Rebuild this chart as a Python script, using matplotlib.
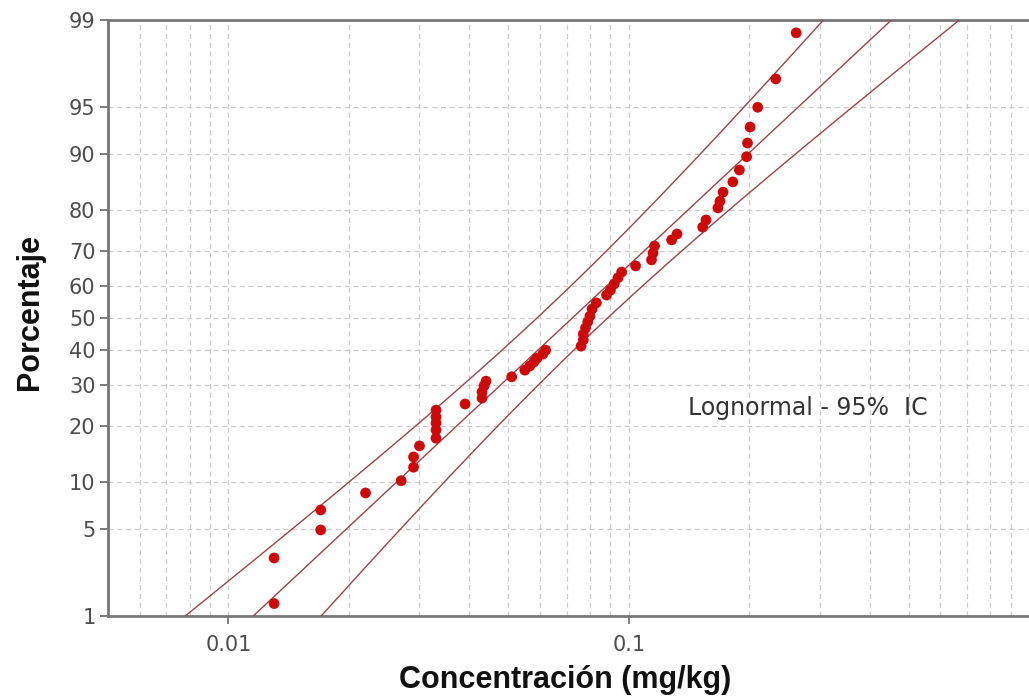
import numpy as np
import matplotlib
matplotlib.use("Agg")
import matplotlib.pyplot as plt
from matplotlib.ticker import FixedLocator, FixedFormatter, LogLocator, NullFormatter
from statistics import NormalDist

# Measured concentrations (mg/kg) and their plotting positions (%)
concentracion = [0.013, 0.013, 0.017, 0.017, 0.022, 0.027, 0.029, 0.029, 0.030, 0.033,
                 0.033, 0.033, 0.033, 0.033, 0.039, 0.043, 0.043, 0.0435, 0.044, 0.051,
                 0.055, 0.0566, 0.058, 0.059, 0.061, 0.062, 0.076, 0.077, 0.077, 0.078,
                 0.079, 0.080, 0.081, 0.083, 0.088, 0.090, 0.092, 0.094, 0.096, 0.104,
                 0.114, 0.115, 0.116, 0.128, 0.132, 0.153, 0.156, 0.167, 0.169, 0.172,
                 0.182, 0.189, 0.197, 0.198, 0.201, 0.210, 0.233, 0.262]
porcentaje = [1.29, 3.05, 4.90, 6.70, 8.60, 10.2, 12.2, 13.9, 15.9, 17.4,
              19.1, 20.6, 22.0, 23.6, 25.1, 26.6, 28.2, 29.8, 31.1, 32.3,
              34.2, 35.4, 36.6, 37.7, 38.9, 40.1, 41.3, 43.2, 45.0, 46.9,
              48.8, 50.6, 52.8, 54.7, 57.1, 58.6, 60.5, 62.3, 64.0, 65.8,
              67.5, 69.4, 71.3, 72.9, 74.4, 76.1, 77.8, 80.5, 81.9, 83.7,
              85.6, 87.6, 89.6, 91.4, 93.2, 95.0, 96.9, 98.7]

# Lognormal fit (log10 units) and 95% confidence settings
loc_log10 = -1.141
scale_log10 = 0.3427
n_muestras = 58
z_conf = 1.96

y_ticks = [1, 5, 10, 20, 30, 40, 50, 60, 70, 80, 90, 95, 99]
x_ticks = [0.01, 0.1]
x_tick_labels = ["0.01", "0.1"]

_nd = NormalDist()
_ppf = np.vectorize(lambda q: _nd.inv_cdf(q), otypes=[float])
_cdf = np.vectorize(lambda z: _nd.cdf(z), otypes=[float])


def prob_forward(p):
    p = np.clip(np.asarray(p, dtype=float) / 100.0, 1e-9, 1 - 1e-9)
    return _ppf(p)


def prob_inverse(z):
    return _cdf(np.asarray(z, dtype=float)) * 100.0


fig = plt.figure(figsize=(10.29, 7.0), dpi=100)
ax = fig.add_axes([108 / 1029, 1 - 616 / 700, 1 - 108 / 1029, 596 / 700])

ax.set_xscale("log")
ax.set_yscale("function", functions=(prob_forward, prob_inverse))
ax.set_xlim(0.005, 1.0)
ax.set_ylim(1, 99)

# Fitted percentile line with its confidence bounds
p_line = np.linspace(0.3, 99.7, 400)
z_line = prob_forward(p_line)
centro = loc_log10 + z_line * scale_log10
semi = z_conf * scale_log10 * np.sqrt(1.0 / n_muestras + z_line ** 2 / (2.0 * n_muestras))
line_color = "#9a4545"
ax.plot(10 ** centro, p_line, color=line_color, lw=1.0, zorder=3)
ax.plot(10 ** (centro - semi), p_line, color=line_color, lw=1.0, zorder=3)
ax.plot(10 ** (centro + semi), p_line, color=line_color, lw=1.0, zorder=3)

ax.scatter(concentracion, porcentaje, s=60, color="#cc0a0a", edgecolors="none", zorder=4)

# Ticks
ax.yaxis.set_major_locator(FixedLocator(y_ticks))
ax.yaxis.set_major_formatter(FixedFormatter([str(t) for t in y_ticks]))
ax.yaxis.set_minor_locator(FixedLocator([]))
ax.xaxis.set_major_locator(FixedLocator(x_ticks))
ax.xaxis.set_major_formatter(FixedFormatter(x_tick_labels))
ax.xaxis.set_minor_locator(LogLocator(base=10, subs=np.arange(2, 10)))
ax.xaxis.set_minor_formatter(NullFormatter())

ax.tick_params(axis="both", which="major", direction="out", length=6, width=1.2,
               color="#666666", labelcolor="#4d4d4d", labelsize=15, pad=3)
ax.tick_params(axis="x", which="major", pad=8)
ax.tick_params(axis="x", which="minor", length=0)

grid_style = dict(color="#cccccc", linestyle=(0, (4, 3)), linewidth=0.9)
ax.grid(True, which="major", axis="both", **grid_style)
ax.grid(True, which="minor", axis="x", **grid_style)
ax.set_axisbelow(True)

for side in ("left", "top", "bottom"):
    ax.spines[side].set_color("#777777")
    ax.spines[side].set_linewidth(2.0)
ax.spines["right"].set_visible(False)

ax.text(0.630, 0.349, "Lognormal - 95%  IC", transform=ax.transAxes,
        ha="left", va="center", fontsize=17, color="#333333", family="DejaVu Sans")

ax.text(0.496, -0.108, "Concentración (mg/kg)", transform=ax.transAxes,
        ha="center", va="center", fontsize=22, fontweight="bold",
        family="Liberation Sans", color="#111111")
ax.text(-0.085, 0.51, "Porcentaje", transform=ax.transAxes, rotation=90,
        ha="center", va="center", fontsize=22, fontweight="bold",
        family="Liberation Sans", color="#111111")

fig.savefig("out.png", dpi=100)
